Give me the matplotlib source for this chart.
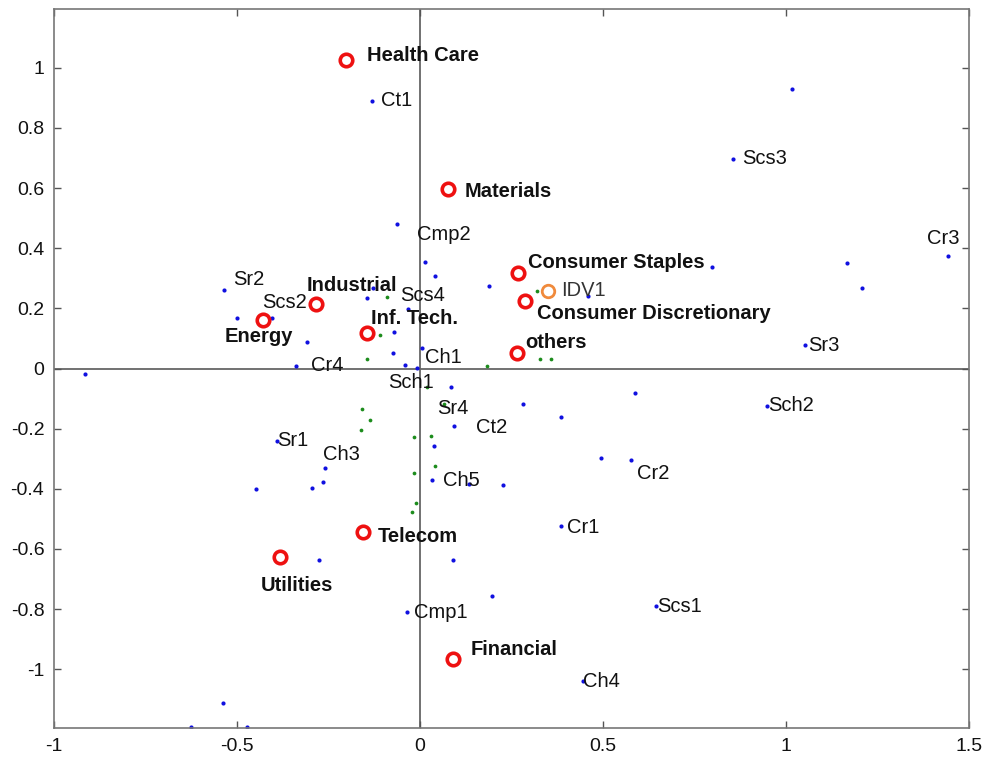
import matplotlib
matplotlib.use("Agg")
import matplotlib.pyplot as plt
import numpy as np

plt.rcParams['font.family'] = ['Liberation Sans', 'DejaVu Sans']

# sectors (red circles) + label anchors
sectors = ['Health Care', 'Materials', 'Consumer Staples', 'Consumer Discretionary',
           'others', 'Industrial', 'Energy', 'Inf. Tech.', 'Telecom', 'Utilities', 'Financial']
sec_x = [-0.202, 0.077, 0.268, 0.287, 0.265, -0.284, -0.429, -0.145, -0.156, -0.383, 0.090]
sec_y = [1.027, 0.597, 0.317, 0.223, 0.053, 0.213, 0.160, 0.117, -0.543, -0.627, -0.967]
sec_lx = [-0.145, 0.123, 0.295, 0.320, 0.287, -0.309, -0.533, -0.134, -0.115, -0.434, 0.137]
sec_ly = [1.040, 0.587, 0.353, 0.183, 0.087, 0.277, 0.107, 0.167, -0.560, -0.720, -0.933]

# individual (orange circle)
idv_x, idv_y = 0.350, 0.257
idv_lx, idv_ly = 0.385, 0.260

# blue points
blue_x = [-0.915, -0.131, -0.063, 0.014, 0.041, 0.189, -0.536, -0.500, -0.405, -0.309,
          -0.339, -0.145, -0.128, -0.033, -0.071, -0.074, 0.005, -0.041, -0.008, 0.085,
          0.281, 0.385, 0.093, 0.038, 0.033, 0.134, 0.227, -0.391, -0.260, -0.265,
          -0.295, -0.448, -0.276, 0.090, 0.197, -0.036, -0.538, -0.626, -0.473, 0.587,
          0.948, 0.495, 0.577, 0.385, 0.645, 0.445, 1.016, 0.855, 0.798, 0.459,
          1.167, 1.208, 1.443, 1.052]
blue_y = [-0.017, 0.890, 0.480, 0.355, 0.308, 0.273, 0.260, 0.167, 0.167, 0.087,
          0.007, 0.233, 0.267, 0.197, 0.120, 0.052, 0.067, 0.010, 0.003, -0.060,
          -0.117, -0.160, -0.190, -0.257, -0.370, -0.383, -0.387, -0.240, -0.330, -0.377,
          -0.397, -0.400, -0.637, -0.637, -0.757, -0.810, -1.113, -1.193, -1.193, -0.080,
          -0.123, -0.297, -0.303, -0.523, -0.790, -1.040, 0.930, 0.697, 0.337, 0.240,
          0.350, 0.267, 0.373, 0.077]

# green points
green_x = [-0.090, -0.109, -0.145, 0.183, 0.328, 0.358, 0.019, 0.065, -0.159, -0.137,
           -0.161, -0.016, 0.030, 0.041, -0.016, -0.011, -0.022, 0.320]
green_y = [0.237, 0.113, 0.030, 0.008, 0.030, 0.030, -0.063, -0.117, -0.133, -0.170,
           -0.203, -0.227, -0.223, -0.323, -0.347, -0.447, -0.477, 0.257]

# labels for the blue points
codes = ['Ct1', 'Cmp2', 'Sr2', 'Scs2', 'Scs4', 'Ch1', 'Cr4', 'Sch1', 'Sr4', 'Ct2', 'Sr1',
         'Ch3', 'Ch5', 'Cr2', 'Cr1', 'Cmp1', 'Scs1', 'Ch4', 'Sch2', 'Sr3', 'Scs3', 'Cr3']
code_x = [-0.107, -0.008, -0.511, -0.432, -0.055, 0.014, -0.298, -0.087, 0.046, 0.153, -0.391,
          -0.265, 0.063, 0.593, 0.402, -0.016, 0.648, 0.445, 0.951, 1.060, 0.880, 1.385]
code_y = [0.890, 0.447, 0.297, 0.220, 0.243, 0.037, 0.010, -0.047, -0.133, -0.197, -0.240,
          -0.287, -0.373, -0.350, -0.527, -0.810, -0.790, -1.040, -0.123, 0.077, 0.697, 0.433]

fig = plt.figure(figsize=(9.87, 7.58), dpi=100)
ax = fig.add_axes([0.0547, 0.0396, 0.9271, 0.9485])

ax.axhline(0, color='#666666', linewidth=1.3, zorder=1)
ax.axvline(0, color='#666666', linewidth=1.3, zorder=1)

ax.plot(blue_x, blue_y, linestyle='None', marker='o', markersize=3.0,
        color='#1010e0', markeredgewidth=0, zorder=2)
ax.plot(green_x, green_y, linestyle='None', marker='o', markersize=2.7,
        color='#1c8c1c', markeredgewidth=0, zorder=2)
ax.plot(sec_x, sec_y, linestyle='None', marker='o', markersize=9,
        markerfacecolor='none', markeredgecolor='#ee1111', markeredgewidth=2.6, zorder=3)
ax.plot([idv_x], [idv_y], linestyle='None', marker='o', markersize=9,
        markerfacecolor='none', markeredgecolor='#f08a3c', markeredgewidth=2.0, zorder=3)

for name, x, y in zip(sectors, sec_lx, sec_ly):
    ax.text(x, y, name, fontsize=14.5, fontweight='bold', ha='left', va='center',
            color='#111111', zorder=4)
ax.text(idv_lx, idv_ly, 'IDV1', fontsize=14.5, ha='left', va='center', color='#333333', zorder=4)
for name, x, y in zip(codes, code_x, code_y):
    ax.text(x, y, name, fontsize=14.5, ha='left', va='center', color='#111111', zorder=4)

ax.set_xlim(-1, 1.5)
ax.set_ylim(-1.195, 1.195)
ax.set_xticks([-1, -0.5, 0, 0.5, 1, 1.5])
ax.set_xticklabels(['-1', '-0.5', '0', '0.5', '1', '1.5'])
yt = np.round(np.arange(-1, 1.01, 0.2), 1)
ax.set_yticks(yt)
ax.set_yticklabels([('%g' % v) if v != 0 else '0' for v in yt])
ax.tick_params(direction='in', length=5, width=1, top=True, right=True,
               labelsize=14, colors='#555555', labelcolor='#111111', pad=7)
for s in ax.spines.values():
    s.set_color('#777777')
    s.set_linewidth(1.2)

fig.savefig('out.png', dpi=100)
